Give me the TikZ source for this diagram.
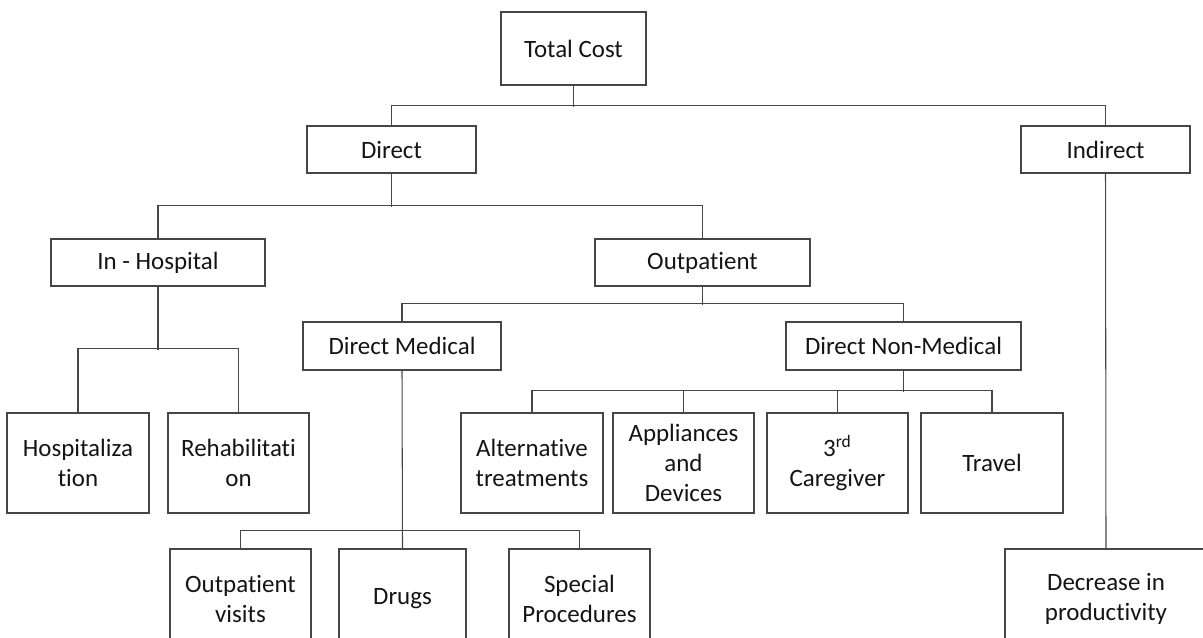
\documentclass[tikz,border=0pt]{standalone}
\usepackage{fontspec}
\setmainfont{Carlito}[Ligatures=NoCommon]
\usetikzlibrary{positioning, calc}
\definecolor{edgegray}{RGB}{70, 70, 70}
\definecolor{txtgray}{RGB}{20, 20, 20}

\begin{document}
\begin{tikzpicture}[
          x=0.02cm, y=-0.02cm,
          bx/.style 2 args={rectangle, draw=edgegray,
                     line width=0.6pt, inner sep=0pt,
                     minimum width=#1*0.02cm,
                     minimum height=#2*0.02cm,
                     align=center, text=txtgray,
                     font=\fontsize{14.2}{17}\selectfont},
          conn/.style={draw=edgegray, line width=0.6pt},
      ]
      \useasboundingbox (0, 0) rectangle (1203, 637);
      \clip (0, 0) rectangle (1203, 637);
      % level 0 and 1
      \node[bx={145}{73}] (total)
          at (573.5, 48.5) {Total Cost};
      \node[bx={169}{47}] (direct)
          at (391.5, 149.5) {Direct};
      \node[bx={169}{47}] (indirect)
          at (1105.5, 149.5) {Indirect};
      % level 2
      \node[bx={214}{47}] (inhosp)
          at (158, 262.5) {In - Hospital};
      \node[bx={215}{47}] (outpat)
          at (702.5, 262.5) {Outpatient};
      \node[bx={198}{48}] (dmed)
          at (402, 346) {Direct Medical};
      \node[bx={235}{48}] (dnonmed)
          at (903.5, 346) {Direct Non-Medical};
      % level 3
      \node[bx={142}{100}] (hosp)
          at (78, 463) {Hospitaliza\\tion};
      \node[bx={141}{100}] (rehab)
          at (238.5, 463) {Rehabilitati\\on};
      \node[bx={142}{100}] (altern)
          at (532, 463) {Alternative\\treatments};
      \node[bx={141}{100}] (appl)
          at (683.5, 463) {Appliances\\and\\Devices};
      \node[bx={141}{100}] (caregiver)
          at (837.5, 463) {3\textsuperscript{rd}\\Caregiver};
      \node[bx={142}{100}] (travel)
          at (992, 463) {Travel};
      % level 4
      \node[bx={141}{100}] (opvisits)
          at (240.5, 599) {Outpatient\\visits};
      \node[bx={127}{100}] (drugs)
          at (402.5, 599) {Drugs};
      \node[bx={141}{100}] (special)
          at (579.5, 599) {Special\\Procedures};
      \node[bx={202}{100}] (decrease)
          at (1106, 599) {Decrease in\\productivity};
      % connectors
      \draw[conn] (total.south) -- ++(0, 21);
      \draw[conn] (direct.north) -- ++(0, -20)
          -| (indirect.north);
      \draw[conn] (direct.south) -- ++(0, 33);
      \draw[conn] (inhosp.north) -- ++(0, -33)
          -| (outpat.north);
      \draw[conn] (outpat.south) -- ++(0, 18);
      \draw[conn] (dmed.north) -- ++(0, -18)
          -| (dnonmed.north);
      \draw[conn] (inhosp.south) -- ++(0, 63);
      \draw[conn] (hosp.north) -- ++(0, -64)
          -| (rehab.north);
      \draw[conn] (dnonmed.south) -- ++(0, 21);
      \draw[conn] (altern.north) -- ++(0, -22)
          -| (travel.north);
      \draw[conn] (appl.north) -- ++(0, -22);
      \draw[conn] (caregiver.north) -- ++(0, -22);
      \draw[conn] (dmed.south) -- (drugs.north);
      \draw[conn] (opvisits.north) -- ++(0, -18)
          -| (special.north);
      \draw[conn] (indirect.south) -- (decrease.north);
      \end{tikzpicture}
\end{document}
